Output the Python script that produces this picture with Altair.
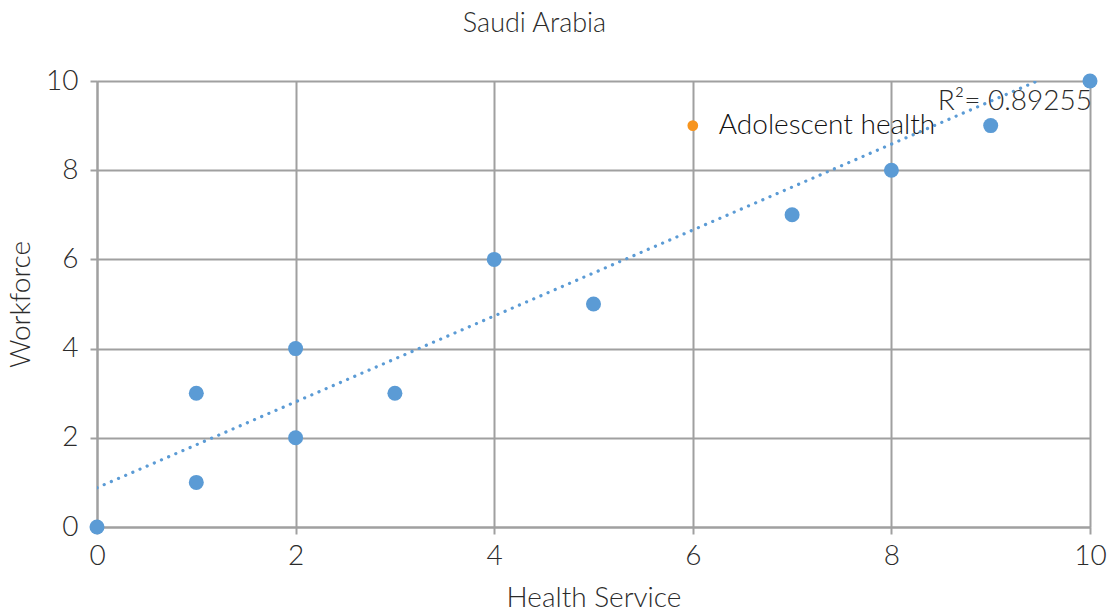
import altair as alt
import pandas as pd

# Health Service vs Workforce scores
health_service = [0, 1, 1, 2, 2, 3, 4, 5, 7, 8, 9, 10]
workforce = [0, 1, 3, 2, 4, 3, 6, 5, 7, 8, 9, 10]

# Highlighted topic
hl_label = ["Adolescent health"]
hl_x = [6]
hl_y = [9]

# Linear trend line (end points) and its fit statistic
trend_x = [0, 9.47]
trend_y = [0.88, 10]
r2_text = ["R²= 0.89255"]

ticks = [0, 2, 4, 6, 8, 10]
blue = "#5B9BD5"
orange = "#F7941D"
grid = "#A0A0A0"
font = "Lato"
txt = "#2b2b2b"

pts = pd.DataFrame({"x": health_service, "y": workforce})
hl = pd.DataFrame({"x": hl_x, "y": hl_y, "label": hl_label})
trend = pd.DataFrame({"x": trend_x, "y": trend_y})
r2 = pd.DataFrame({"x": [10], "y": [10], "t": r2_text})

xs = alt.Scale(domain=[0, 10], nice=False, zero=False)
ys = alt.Scale(domain=[0, 10], nice=False, zero=False)

common = dict(values=ticks, format="d", grid=True,
              gridColor=grid, gridWidth=2, domainColor=grid, domainWidth=2,
              tickColor=grid, tickWidth=2, tickSize=7,
              labelFontSize=28, labelColor=txt, labelFont=font,
              labelFontWeight=300, labelFlush=False,
              titleFontSize=28, titleColor=txt, titleFont=font,
              titleFontWeight=300)
x_axis = alt.Axis(title="Health Service", labelPadding=8, titlePadding=14, **common)
y_axis = alt.Axis(title="Workforce", labelPadding=12, titlePadding=10, **common)

base_pts = alt.Chart(pts).mark_circle(size=225, color=blue, opacity=1).encode(
    x=alt.X("x:Q", scale=xs, axis=x_axis),
    y=alt.Y("y:Q", scale=ys, axis=y_axis),
)

trend_line = alt.Chart(trend).mark_line(
    color=blue, strokeWidth=3.2, strokeDash=[0.1, 7.7], strokeCap="round", clip=True
).encode(x=alt.X("x:Q", scale=xs), y=alt.Y("y:Q", scale=ys))

hl_pt = alt.Chart(hl).mark_circle(size=115, color=orange, opacity=1).encode(
    x=alt.X("x:Q", scale=xs), y=alt.Y("y:Q", scale=ys))

hl_txt = alt.Chart(hl).mark_text(
    align="left", baseline="middle", dx=26, fontSize=28, font=font,
    fontWeight=300, color="#111111"
).encode(x=alt.X("x:Q", scale=xs), y=alt.Y("y:Q", scale=ys), text="label:N")

r2_txt = alt.Chart(r2).mark_text(
    align="right", baseline="middle", dx=2, dy=21, fontSize=28, font=font,
    fontWeight=300, color=txt
).encode(x=alt.X("x:Q", scale=xs), y=alt.Y("y:Q", scale=ys), text="t:N")

chart = alt.layer(trend_line, base_pts, hl_pt, hl_txt, r2_txt).properties(
    width=993, height=446,
    title=alt.TitleParams("Saudi Arabia", fontSize=27, font=font, fontWeight=300,
                          color=txt, anchor="middle", dx=-59, offset=29),
    autosize=alt.AutoSizeParams(type="none"),
    padding={"left": 97, "top": 81, "right": 21, "bottom": 85},
).configure_view(stroke=None).configure(background="white")

chart.save("out.html", embed_options={"renderer": "svg", "actions": False})
